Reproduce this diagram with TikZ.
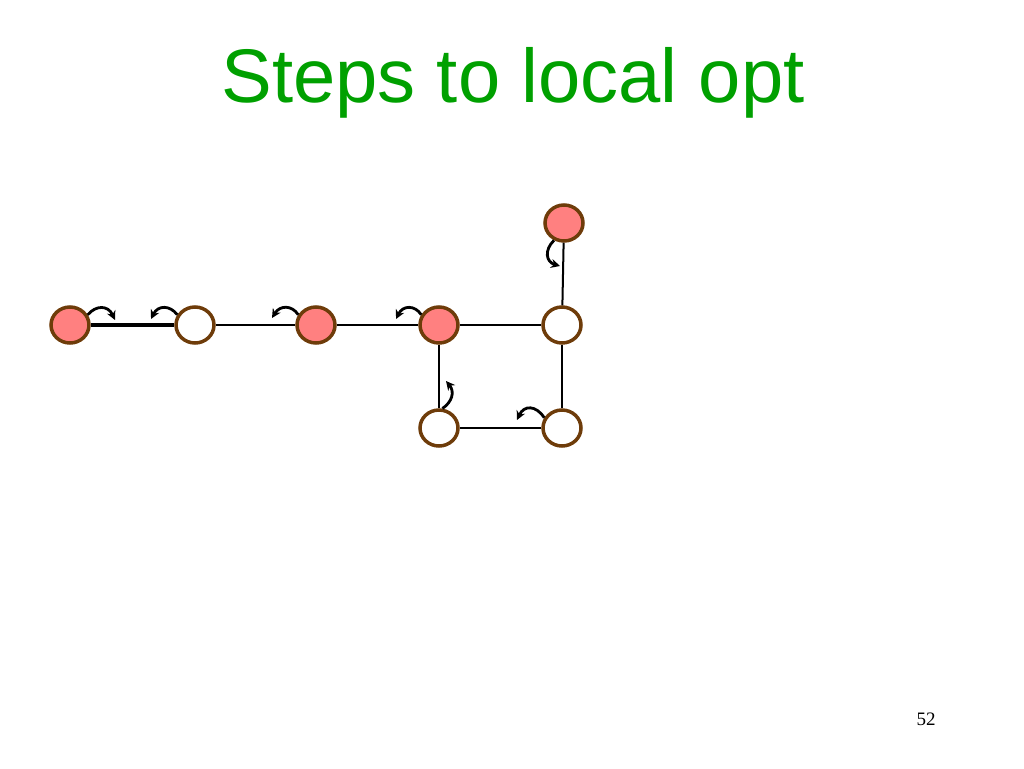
\documentclass[tikz,border=0pt]{standalone}
\usepackage{fontspec}
\setmainfont{Liberation Serif}
\newfontfamily\titlefont{Liberation Sans}
\usetikzlibrary{arrows.meta,shapes.geometric}
\definecolor{pinkfill}{RGB}{255,128,128}
\definecolor{brownedge}{RGB}{110,60,10}
\definecolor{titlegreen}{RGB}{0,160,0}
\tikzset{
  vert/.style={ellipse, draw=brownedge, line width=3.5pt, minimum width=38pt, minimum height=36pt, inner sep=0pt},
  hot/.style={vert, fill=pinkfill},
  cold/.style={vert, fill=white},
  edge/.style={line width=2pt, black},
  move/.style={line width=2.8pt, black, -{Stealth[length=9pt,width=9pt]}},
}
\begin{document}
\begin{tikzpicture}[x=1pt,y=-1pt]
\useasboundingbox (0,0) rectangle (1024,768);
\node[text=titlegreen, font=\titlefont\fontsize{76}{86}\selectfont, anchor=base] (title) at (513,102) {Steps to local opt};
\node[font=\fontsize{19}{22}\selectfont, anchor=base] (pg) at (926,725) {52};
\node[hot] (A) at (70,325) {};
\node[cold] (B) at (195,325) {};
\node[hot] (C) at (316,325) {};
\node[hot] (D) at (439,325) {};
\node[cold] (E) at (562,325) {};
\node[hot] (F) at (564,223) {};
\node[cold] (G) at (439,428) {};
\node[cold] (H) at (562,428) {};
\draw[line width=4.5pt] (A) -- (B);
\draw[edge] (B) -- (C);
\draw[edge] (C) -- (D);
\draw[edge] (D) -- (E);
\draw[edge] (E) -- (F);
\draw[edge] (D) -- (G);
\draw[edge] (G) -- (H);
\draw[edge] (E) -- (H);
\draw[move] (A.30) .. controls (96,305) and (108,305) .. (115,320);
\draw[move] (B.150) .. controls (170,305) and (158,305) .. (151,319);
\draw[move] (C.150) .. controls (292,305) and (280,305) .. (272,318);
\draw[move] (D.150) .. controls (415,305) and (403,305) .. (396,319);
\draw[move] (F.240) .. controls (544,250) and (546,262) .. (560,266);
\draw[move] (G.80) .. controls (452,402) and (455,392) .. (446,381);
\draw[move] (H.150) .. controls (536,405) and (524,405) .. (517,420);
\end{tikzpicture}
\end{document}
